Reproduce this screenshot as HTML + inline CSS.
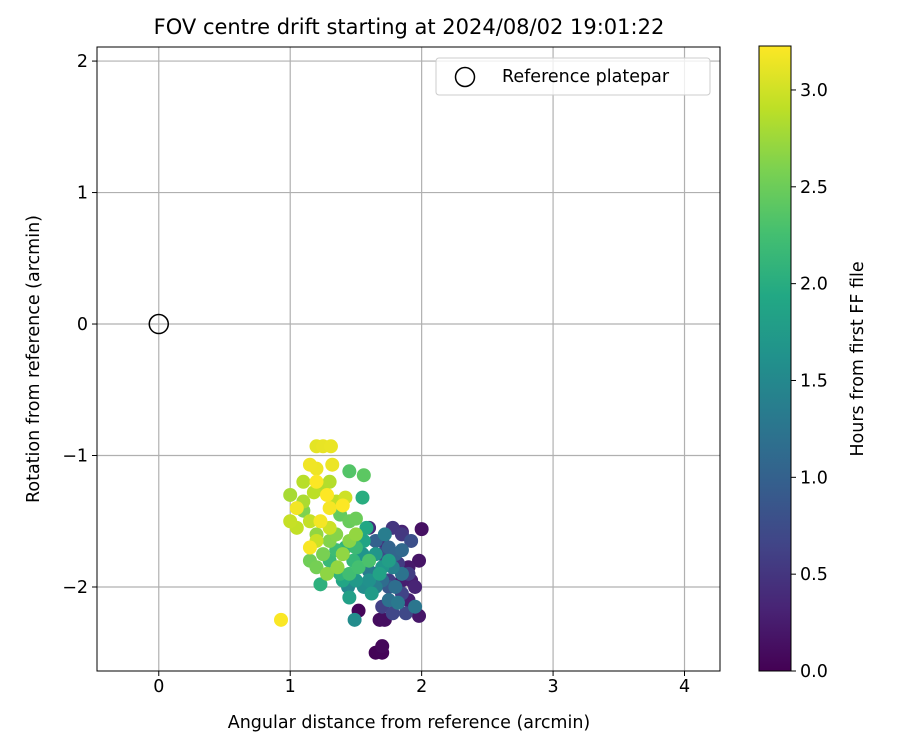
<!DOCTYPE html>
<html><head><meta charset="utf-8">
<style>
body{margin:0;background:#fff;}
svg{display:block;font-family:"DejaVu Sans","Liberation Sans",sans-serif;}
</style></head>
<body>
<svg id="chart" width="900" height="750" viewBox="0 0 900 750">
<defs>
<linearGradient id="vir" x1="0" y1="1" x2="0" y2="0">
<stop offset="0" stop-color="#440154"/><stop offset="0.1" stop-color="#482475"/><stop offset="0.2" stop-color="#414487"/><stop offset="0.3" stop-color="#355f8d"/><stop offset="0.4" stop-color="#2a788e"/><stop offset="0.5" stop-color="#21918c"/><stop offset="0.6" stop-color="#22a884"/><stop offset="0.7" stop-color="#44bf70"/><stop offset="0.8" stop-color="#7ad151"/><stop offset="0.9" stop-color="#bddf26"/><stop offset="1" stop-color="#fde725"/>
</linearGradient>
<clipPath id="plotclip"><rect x="97" y="47" width="623" height="624"/></clipPath>
</defs>
<text x="409" y="34" font-size="21" text-anchor="middle">FOV centre drift starting at 2024/08/02 19:01:22</text>
<g id="grid"></g>
<g id="points" clip-path="url(#plotclip)"></g>
<circle id="refpt" r="9.5" fill="none" stroke="#000" stroke-width="1.5"/>
<rect x="97" y="47" width="623" height="624" fill="none" stroke="#000" stroke-width="1"/>
<g id="xticks"></g>
<g id="yticks"></g>
<text x="409" y="728" font-size="17.5" text-anchor="middle">Angular distance from reference (arcmin)</text>
<text transform="translate(39,359) rotate(-90)" font-size="17.5" text-anchor="middle">Rotation from reference (arcmin)</text>
<g>
<rect x="436" y="58" width="274" height="37" rx="3" fill="#fff" fill-opacity="0.8" stroke="#ccc"/>
<circle cx="465" cy="77" r="9.5" fill="none" stroke="#000" stroke-width="1.5"/>
<text x="502" y="82" font-size="17.5">Reference platepar</text>
</g>
<rect x="759" y="46" width="32" height="625" fill="url(#vir)" stroke="#000" stroke-width="1"/>
<g id="cticks"></g>
<text transform="translate(863,359) rotate(-90)" font-size="17.5" text-anchor="middle">Hours from first FF file</text>
</svg>
<script>
const xTicks=[0,1,2,3,4];
const yTicks=[-2,-1,0,1,2];
const cTicks=[0.0,0.5,1.0,1.5,2.0,2.5,3.0];
const refX=[0];
const refY=[0];
const ptX=[1.52,1.65,1.70,1.70,1.68,1.72,2.00,1.98,1.98,1.90,1.85,1.92,1.90,1.85,1.95,
1.60,1.70,1.78,1.85,1.82,1.90,1.75,1.70,1.85,1.78,1.88,1.70,1.92,1.65,1.75,
1.65,1.75,1.80,1.85,1.70,1.80,1.75,1.85,1.95,1.82,1.60,1.72,1.65,1.78,
1.44,1.49,1.56,1.60,1.55,1.65,1.70,1.50,1.62,1.75,1.45,1.68,1.56,1.40,1.58,
1.55,1.23,1.38,1.42,1.48,1.30,1.50,1.35,1.45,1.52,1.60,
1.45,1.56,1.38,1.45,1.50,1.15,1.20,1.25,1.10,1.30,1.35,1.45,1.28,1.40,1.20,1.36,1.50,
1.00,1.10,1.25,1.30,1.10,1.18,1.35,1.05,1.15,1.00,1.20,1.30,1.42,
1.20,1.25,1.31,1.32,1.20,1.15,1.05,1.23,1.30,1.15,0.93,1.40,1.20,1.28];
const ptY=[-2.18,-2.50,-2.50,-2.45,-2.25,-2.25,-1.56,-1.80,-2.22,-1.85,-1.95,-1.95,-2.10,-1.58,-2.00,
-1.55,-1.65,-1.55,-1.60,-1.82,-1.90,-1.95,-2.15,-2.05,-2.20,-2.20,-1.75,-1.65,-1.90,-2.00,
-1.65,-1.70,-1.75,-1.72,-1.95,-2.00,-2.10,-1.90,-2.15,-2.12,-1.88,-1.60,-2.00,-1.85,
-2.00,-2.25,-2.00,-1.95,-1.75,-1.75,-1.85,-1.95,-2.05,-1.80,-2.08,-1.90,-1.65,-1.95,-1.55,
-1.32,-1.98,-1.90,-1.70,-1.80,-1.80,-1.70,-1.72,-1.90,-1.85,-1.80,
-1.12,-1.15,-1.45,-1.50,-1.48,-1.80,-1.85,-1.75,-1.42,-1.65,-1.60,-1.65,-1.90,-1.75,-1.60,-1.85,-1.60,
-1.30,-1.35,-1.25,-1.20,-1.20,-1.28,-1.35,-1.55,-1.50,-1.50,-1.65,-1.55,-1.32,
-0.93,-0.93,-0.93,-1.07,-1.10,-1.07,-1.40,-1.50,-1.40,-1.70,-2.25,-1.38,-1.20,-1.30];
const ptT=[0.05,0.02,0.03,0.06,0.10,0.12,0.15,0.18,0.20,0.22,0.25,0.27,0.28,0.30,0.32,
0.40,0.45,0.50,0.52,0.55,0.58,0.60,0.62,0.65,0.68,0.70,0.75,0.78,0.82,0.88,
1.00,1.03,1.06,1.10,1.13,1.16,1.20,1.23,1.26,1.30,1.33,1.36,1.38,1.40,
1.50,1.55,1.58,1.62,1.65,1.68,1.70,1.73,1.76,1.80,1.82,1.85,1.88,1.90,1.92,
2.00,2.05,2.08,2.10,2.13,2.16,2.18,2.20,2.23,2.26,2.30,
2.35,2.40,2.45,2.48,2.50,2.52,2.55,2.57,2.60,2.62,2.64,2.66,2.68,2.69,2.70,2.70,2.70,
2.80,2.82,2.84,2.86,2.88,2.90,2.92,2.93,2.94,2.95,2.97,2.98,2.99,
3.10,3.12,3.13,3.14,3.15,3.16,3.17,3.18,3.19,3.20,3.21,3.22,3.22,3.23];
const X0=97,X1=720,XMIN=-0.47,XMAX=4.27,Y0=47,Y1=671,YMIN=-2.639,YMAX=2.107,CMIN=0,CMAX=3.227;
const sx=v=>X0+(v-XMIN)/(XMAX-XMIN)*(X1-X0);
const sy=v=>Y1-(v-YMIN)/(YMAX-YMIN)*(Y1-Y0);
const sc=v=>671-(v-CMIN)/(CMAX-CMIN)*625;
const NS='http://www.w3.org/2000/svg';
const vir=[[68,1,84],[72,36,117],[65,68,135],[53,95,141],[42,120,142],[33,145,140],[34,168,132],[68,191,112],[122,209,81],[189,223,38],[253,231,37]];
function color(t){let f=Math.max(0,Math.min(1,(t-CMIN)/(CMAX-CMIN)))*10;let i=Math.min(9,Math.floor(f)),r=f-i;
const a=vir[i],b=vir[i+1];return 'rgb('+a.map((c,k)=>Math.round(c+(b[k]-c)*r)).join(',')+')';}
function mk(tag,attrs,parent){const e=document.createElementNS(NS,tag);for(const k in attrs)e.setAttribute(k,attrs[k]);parent.appendChild(e);return e;}
const grid=document.getElementById('grid'),xt=document.getElementById('xticks'),yt=document.getElementById('yticks'),ct=document.getElementById('cticks');
xTicks.forEach(v=>{const x=sx(v);
const g=mk('line',{x1:x,x2:x,y1:Y0,y2:Y1,stroke:'#b0b0b0','stroke-width':1.2},grid);

const t=mk('line',{x1:x,x2:x,y1:Y1,y2:Y1+5,stroke:'#000'},xt);

const l=mk('text',{x:x,y:Y1+21,'font-size':17.5,'text-anchor':'middle'},xt);l.textContent=String(v);
});
yTicks.forEach(v=>{const y=sy(v);
const g=mk('line',{x1:X0,x2:X1,y1:y,y2:y,stroke:'#b0b0b0','stroke-width':1.2},grid);

const t=mk('line',{x1:X0-5,x2:X0,y1:y,y2:y,stroke:'#000'},yt);

const l=mk('text',{x:X0-9,y:y+6,'font-size':17.5,'text-anchor':'end'},yt);l.textContent=v<0?'\u2212'+Math.abs(v):String(v);
});
cTicks.forEach(v=>{const y=sc(v);
const t=mk('line',{x1:791,x2:796,y1:y,y2:y,stroke:'#000'},ct);

const l=mk('text',{x:800,y:y+6,'font-size':17.5},ct);l.textContent=v.toFixed(1);
});
const pts=document.getElementById('points');
ptT.map((t,i)=>i).sort((a,b)=>ptT[a]-ptT[b]).forEach(i=>{
const c=mk('circle',{cx:sx(ptX[i]),cy:sy(ptY[i]),r:7,fill:color(ptT[i])},pts);
});
const rp=document.getElementById('refpt');rp.setAttribute('cx',sx(refX[0]));rp.setAttribute('cy',sy(refY[0]));
</script>
</body></html>
